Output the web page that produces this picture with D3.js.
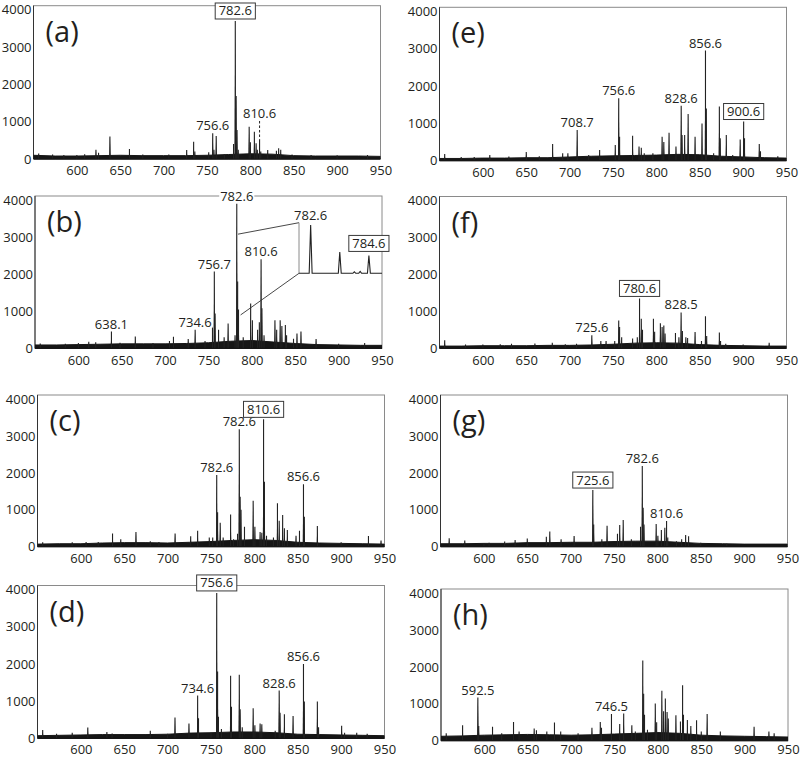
<!DOCTYPE html>
<html><head><meta charset="utf-8">
<script src="https://cdn.jsdelivr.net/npm/d3@7"></script>
<style>
body{margin:0;background:#fff}
text{font-family:"Open Sans",sans-serif;fill:#231f20}
</style>
</head><body>
<svg id="chart" width="800" height="758"></svg>
<script>
// ---------- DATA ----------
const xTicks = [600, 650, 700, 750, 800, 850, 900, 950];
const yTicks = [0, 1000, 2000, 3000, 4000];
const mzDomain = [550, 950];
const yMax = 4110;
const panelIds = ["a","b","c","d","e","f","g","h"];

// m/z positions at which the noise baseline level was read
const baseMz = [550,575,600,625,650,675,700,725,750,775,800,825,850,875,900,925,950];

const baseA = [100,80,80,90,100,90,90,90,100,120,140,130,90,80,80,80,70];
const baseB = [90,90,100,110,120,120,120,130,150,190,210,170,130,100,90,80,80];
const baseC = [70,80,80,100,110,110,100,120,140,170,190,170,120,100,90,80,70];
const baseD = [70,80,90,100,100,100,110,140,150,170,170,150,110,100,90,80,70];
const baseE = [60,60,70,70,80,80,100,120,130,140,150,170,160,120,100,80,70];
const baseF = [60,60,70,70,70,80,80,90,110,140,150,140,100,80,70,60,60];
const baseG = [80,80,90,90,110,110,120,120,140,150,150,120,90,80,70,70,70];
const baseH = [120,130,150,160,170,160,150,160,180,200,220,200,150,130,120,110,100];

// peaks: [m/z, intensity]
const peaksA = [[556,150],[572,120],[585,110],[600,110],[609,130],[622,250],[625,170],[638.1,600],[660.6,270],[676,120],[706,120],[726.6,240],[734.6,460],[736,200],[752,180],[756.6,690],[758,250],[760.6,615],[770,130],[780.6,400],[782.6,3700],[783.6,1690],[784.6,780],[786,250],[798.6,865],[800,450],[804.6,730],[806.6,420],[808,250],[810.6,530],[812,200],[820,240],[830,220],[832.6,290],[835,250],[848,120],[870,110],[900,100],[935,110]];
const peaksB = [[556,130],[585,120],[600,140],[612,180],[620,160],[638.1,450],[648,150],[665.6,320],[686,140],[705,200],[709.6,310],[726.6,250],[734.6,500],[746,200],[754.6,580],[756.7,2070],[757.6,940],[761.6,500],[768,300],[772.6,670],[780.6,350],[782.6,3900],[783.6,1800],[784.6,1050],[790,300],[798.6,1210],[800.6,760],[806.6,500],[808.6,700],[810.6,2400],[811.6,1080],[814,350],[826.6,760],[828.6,500],[832.6,760],[834.6,600],[838.6,630],[840,350],[848,260],[852,400],[856.6,450],[874,250],[900,120],[930,140]];
const peaksC = [[556,120],[590,120],[606,130],[620,130],[636.5,360],[646,200],[663.5,400],[680,150],[690,130],[708.6,360],[726.6,280],[734.6,430],[748,250],[752,250],[756.6,1940],[757.6,930],[760.6,650],[764,250],[772.6,875],[776,200],[780.6,350],[782.6,3180],[783.6,1350],[784.6,1000],[788.6,540],[798.6,1245],[800.6,540],[806.6,400],[808.6,380],[810.6,3450],[811.6,1760],[814,300],[822,250],[826.6,1175],[828.6,700],[832.6,860],[834.6,500],[838,450],[848,300],[852,430],[856.6,1690],[857.6,810],[872.6,560],[900,120],[931.5,290],[946,170]];
const peaksD = [[556,220],[572,120],[590,150],[608,290],[630,170],[636,130],[680,200],[700,120],[708.5,560],[724.6,400],[734.6,1150],[735.6,540],[750,150],[756.6,3910],[757.6,1800],[758.6,580],[762,250],[772.6,1680],[773.6,850],[782.6,1710],[783.6,780],[786,300],[798.6,810],[800.6,350],[806.6,400],[808.6,380],[824,200],[828.6,1285],[829.6,690],[834.6,650],[844.6,600],[856.6,2000],[857.6,990],[872.6,990],[874,300],[900.6,340],[904,150],[918,150],[930,120]];
const peaksE = [[556,180],[575,100],[590,100],[608,150],[630,110],[650,230],[665,120],[680.4,450],[692,200],[698,200],[708.7,820],[722,150],[734.6,290],[752.6,420],[756.6,1670],[757.6,640],[772.6,670],[780,380],[782.6,350],[786,200],[796,200],[806.6,640],[808.6,500],[814.6,750],[822.6,380],[828.6,1470],[829.6,690],[832.6,690],[836.6,1250],[844.6,640],[852.6,1000],[856.6,2950],[857.6,1400],[866,200],[872.6,1450],[873.6,600],[880.6,690],[888,150],[896.6,570],[900.6,1050],[901.6,600],[918.6,450],[920,250],[940,120]];
const peaksF = [[556,220],[580,100],[600,100],[620,110],[633,120],[660,130],[680,150],[695,110],[708,120],[725.6,350],[736,200],[742,195],[752,200],[756.6,750],[757.6,575],[760,300],[772.6,265],[778,300],[780.6,1350],[782.6,800],[784,500],[796.6,800],[798,450],[804.6,680],[806.6,575],[808.6,620],[810,400],[822,415],[826,300],[828.5,970],[830,470],[834,300],[836,280],[844.6,440],[852,200],[856.6,865],[858,330],[872.6,430],[874,200],[880,120],[900,100],[930,150]];
const peaksG = [[560,230],[578,170],[600,100],[606,110],[624,140],[636,180],[650,220],[672,270],[676,410],[689,200],[704,290],[725.6,1535],[726.6,600],[736,200],[742,570],[754,350],[756.6,590],[760.6,720],[770,200],[780.6,540],[782.6,2185],[783.6,1055],[784.6,600],[798.6,615],[800.6,300],[804.6,450],[808.6,515],[810.6,695],[812,250],[822,150],[828,200],[832.6,320],[836,280],[850,110],[880,80]];
const peaksH = [[556,200],[574.9,420],[592.5,1170],[593.5,400],[609.4,380],[620,200],[633.6,510],[640,250],[657.4,330],[660,280],[672,250],[680.8,490],[688,250],[708,200],[724,350],[733.6,510],[735,350],[746.5,720],[756,450],[760.6,740],[770,420],[774,250],[782.6,2175],[783.6,1275],[784.6,700],[788,300],[797,1005],[798.6,500],[804.6,1350],[806.6,800],[808.6,1140],[810.6,780],[812,600],[820.8,690],[826,520],[828.5,1500],[829.5,700],[834,560],[838,400],[844.6,555],[850,250],[856.8,720],[872,250],[910.9,380],[928,250],[934,200]];

// peak labels: [text, m/z of labelled peak, optional intensity of label baseline]
const labelsA = [["782.6",782.6],["756.6",756.6],["810.6",810.6,1100]];
const labelsB = [["782.6",782.6],["756.7",756.7],["810.6",810.6],["734.6",734.6],["638.1",638.1]];
const labelsC = [["782.6",756.6],["782.6",782.6],["810.6",810.6],["856.6",856.6]];
const labelsD = [["756.6",756.6],["734.6",734.6],["828.6",828.6],["856.6",856.6]];
const labelsE = [["708.7",708.7],["756.6",756.6],["828.6",828.6],["856.6",856.6],["900.6",900.6]];
const labelsF = [["725.6",725.6],["780.6",780.6],["828.5",828.5]];
const labelsG = [["725.6",725.6],["782.6",782.6],["810.6",810.6]];
const labelsH = [["592.5",592.5],["746.5",746.5]];
const boxedA = ["782.6"], boxedB = [], boxedC = ["810.6"], boxedD = ["756.6"];
const boxedE = ["900.6"], boxedF = ["780.6"], boxedG = ["725.6"], boxedH = [];

// inset of panel (b)
const insetDomain = [782.2, 785.05];
const insetPeaks = [[782.6,100],[783.6,44],[784.1,3],[784.3,4],[784.6,37]];
const insetLabels = [["782.6",782.6],["784.6",784.6]];
const insetBoxed = ["784.6"];
const zoomAnchors = [[784,3080],[787,900]];

// ---------- LAYOUT ----------
const plotW = 347;
const layout = {
  a:[33.5,5.7,159], b:[35,196,348.3], c:[37.5,395,546.7], d:[37.5,585.5,738.3],
  e:[439.5,7.3,160.7], f:[439.5,196.5,348.3], g:[440.5,395,546.7], h:[441,589,740.7]
};

const panels = [
  {id:"a",peaks:peaksA,base:baseA,labels:labelsA,boxed:boxedA},
  {id:"b",peaks:peaksB,base:baseB,labels:labelsB,boxed:boxedB},
  {id:"c",peaks:peaksC,base:baseC,labels:labelsC,boxed:boxedC},
  {id:"d",peaks:peaksD,base:baseD,labels:labelsD,boxed:boxedD},
  {id:"e",peaks:peaksE,base:baseE,labels:labelsE,boxed:boxedE},
  {id:"f",peaks:peaksF,base:baseF,labels:labelsF,boxed:boxedF},
  {id:"g",peaks:peaksG,base:baseG,labels:labelsG,boxed:boxedG},
  {id:"h",peaks:peaksH,base:baseH,labels:labelsH,boxed:boxedH}
];

const svg = d3.select("#chart");
const INK = "#161616";

function drawLabel(g, t, cx, baseY, boxed, bgWhite) {
  const lg = g.append("g");
  const rect = lg.append("rect");
  const tx = lg.append("text").attr("x", cx).attr("y", baseY)
    .attr("text-anchor", "middle").attr("font-size", 13).text(t);
  const bb = tx.node().getBBox();
  if (boxed) {
    rect.attr("x", bb.x - 3.5).attr("y", baseY - 12.5).attr("width", bb.width + 7).attr("height", 16)
      .attr("fill", "#fff").attr("stroke", "#3a3a3a").attr("stroke-width", 1);
  } else if (bgWhite) {
    rect.attr("x", bb.x - 1).attr("y", baseY - 10.5).attr("width", bb.width + 2).attr("height", 11.5)
      .attr("fill", "#fff");
  } else rect.remove();
}

function peakPath(x, y, w) {
  return d => `M${x(d[0]-w)},${y(0)}L${x(d[0])},${y(d[1])}L${x(d[0]+w)},${y(0)}Z`;
}

panels.forEach(p => {
  const [L, T, Y0] = layout[p.id];
  const x = d3.scaleLinear().domain(mzDomain).range([L, L + plotW]);
  const y = d3.scaleLinear().domain([0, yMax]).range([Y0, T]);
  const g = svg.append("g");

  const clipId = "clip-" + p.id;
  g.append("clipPath").attr("id", clipId).append("rect")
    .attr("x", L).attr("y", T).attr("width", plotW).attr("height", Y0 - T + 1);

  // frame
  g.append("rect").attr("x", L).attr("y", T).attr("width", plotW).attr("height", Y0 - T)
    .attr("fill", "none").attr("stroke", "#8a8a8a").attr("stroke-width", 1);
  g.append("line").attr("x1", L).attr("x2", L).attr("y1", T).attr("y2", Y0)
    .attr("stroke", "#333").attr("stroke-width", 1);

  // spectrum
  const sp = g.append("g").attr("clip-path", `url(#${clipId})`);
  sp.append("path").datum(d3.zip(baseMz, p.base))
    .attr("d", d3.area().x(d => x(d[0])).y0(y(0)).y1(d => y(d[1])))
    .attr("fill", INK).attr("stroke", INK).attr("stroke-width", 1);
  sp.selectAll("path.pk").data(p.peaks).join("path").attr("class", "pk")
    .attr("d", peakPath(x, y, 0.9)).attr("fill", INK);
  sp.selectAll("line.pk").data(p.peaks).join("line").attr("class", "pk")
    .attr("x1", d => x(d[0])).attr("x2", d => x(d[0]))
    .attr("y1", y(0)).attr("y2", d => y(d[1]))
    .attr("stroke", "#222").attr("stroke-width", 1.1);
  sp.append("line").attr("x1", L).attr("x2", L + plotW).attr("y1", Y0).attr("y2", Y0)
    .attr("stroke", INK).attr("stroke-width", 1.2);

  // axes
  const pad = Math.min(7, 758 - Y0 - 13.5);
  const xa = d3.axisBottom(x).tickValues(xTicks).tickSize(0).tickPadding(pad).tickFormat(d3.format("d"));
  g.append("g").attr("transform", `translate(0,${Y0})`).call(xa)
    .call(s => s.select(".domain").remove())
    .call(s => s.selectAll("text").attr("font-size", 13).attr("font-family", "Open Sans").attr("fill", "#231f20"));
  const ya = d3.axisLeft(y).tickValues(yTicks).tickSize(0).tickPadding(2).tickFormat(d3.format("d"));
  g.append("g").attr("transform", `translate(${L},0)`).call(ya)
    .call(s => s.select(".domain").remove())
    .call(s => s.selectAll("text").attr("font-size", 13).attr("font-family", "Open Sans").attr("fill", "#231f20"));

  // panel letter
  g.append("text").attr("x", L + 12).attr("y", T + 36).attr("font-size", 29).text(`(${p.id})`);

  // inset (b)
  if (p.id === "b") {
    const iL = L + 264, iR = L + plotW, iTop = T + 26.7, iBase = T + 77.3;
    const ix = d3.scaleLinear().domain(insetDomain).range([iL, iR]);
    const iy = d3.scaleLinear().domain([0, 100]).range([iBase, T + 29]);
    g.append("line").attr("x1", x(zoomAnchors[0][0])).attr("y1", y(zoomAnchors[0][1]))
      .attr("x2", iL).attr("y2", iTop).attr("stroke", "#333").attr("stroke-width", 0.9);
    g.append("line").attr("x1", x(zoomAnchors[1][0])).attr("y1", y(zoomAnchors[1][1]))
      .attr("x2", iL).attr("y2", iBase).attr("stroke", "#333").attr("stroke-width", 0.9);
    g.append("line").attr("x1", iL).attr("x2", iL).attr("y1", iTop).attr("y2", iBase)
      .attr("stroke", "#8a8a8a").attr("stroke-width", 1);
    const pts = [[insetDomain[0], 0]];
    insetPeaks.forEach(d => { pts.push([d[0] - 0.05, 0], [d[0], d[1]], [d[0] + 0.05, 0]); });
    pts.push([insetDomain[1], 0]);
    g.append("path").datum(pts)
      .attr("d", d3.line().x(d => ix(d[0])).y(d => iy(d[1])))
      .attr("fill", "none").attr("stroke", "#222").attr("stroke-width", 1.1);
    insetLabels.forEach(([t, mz]) => {
      const h = d3.max(insetPeaks.filter(d => d[0] === mz), d => d[1]);
      const boxed = insetBoxed.includes(t);
      drawLabel(g, t, ix(mz), iy(h) - (boxed ? 7.5 : 5), boxed, false);
    });
  }

  // peak labels
  p.labels.forEach(([t, mz, at]) => {
    const h = d3.max(p.peaks.filter(d => d[0] === mz), d => d[1]);
    const boxed = p.boxed.includes(t);
    let baseY;
    if (at != null) {
      baseY = y(at);
      g.append("line").attr("x1", x(mz)).attr("x2", x(mz)).attr("y1", baseY + 3).attr("y2", y(h))
        .attr("stroke", "#222").attr("stroke-width", 1).attr("stroke-dasharray", "2.5,2");
    } else {
      baseY = y(h) - (boxed ? 5.5 : 3);
    }
    drawLabel(g, t, x(mz), baseY, boxed, true);
  });
});
</script>
</body></html>
